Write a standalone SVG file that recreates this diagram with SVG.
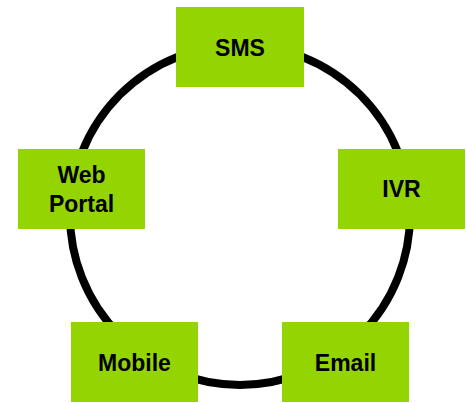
<svg xmlns="http://www.w3.org/2000/svg" width="466" height="403" viewBox="0 0 466 403">
<style>
.box{fill:#94D400}
.lbl{font-family:"Liberation Sans",Arial,sans-serif;font-weight:bold;font-size:23px;fill:#000;text-anchor:middle}
</style>
<rect width="466" height="403" fill="#fff"/>
<g id="connectors">
<circle cx="240" cy="215" r="170" fill="none" stroke="#000" stroke-width="8"/>
</g>
<g id="sms"><rect class="box" x="176" y="7" width="128" height="80"/><text class="lbl" x="240" y="56">SMS</text></g>
<g id="web-portal"><rect class="box" x="18" y="149" width="127" height="80"/><text class="lbl" x="81.5" y="183">Web</text><text class="lbl" x="81.5" y="212">Portal</text></g>
<g id="ivr"><rect class="box" x="338" y="149" width="127" height="80"/><text class="lbl" x="401.5" y="197">IVR</text></g>
<g id="mobile"><rect class="box" x="71" y="322" width="127" height="80"/><text class="lbl" x="134.5" y="371">Mobile</text></g>
<g id="email"><rect class="box" x="282" y="322" width="127" height="80"/><text class="lbl" x="345.5" y="371">Email</text></g>
</svg>
